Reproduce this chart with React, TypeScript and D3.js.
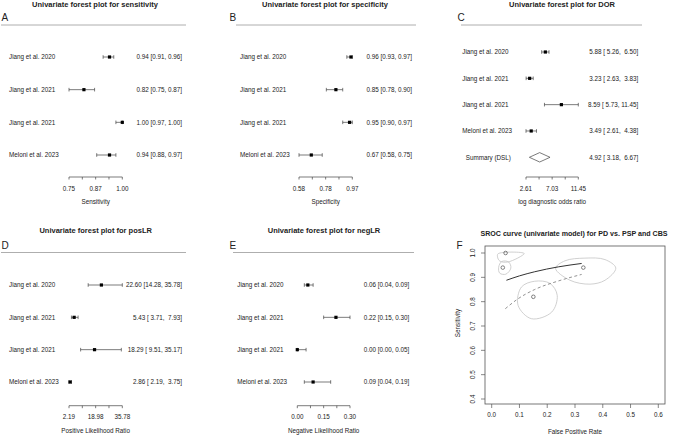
import React from "react";
import * as d3 from "d3";

const studies = ["Jiang et al. 2020", "Jiang et al. 2021", "Jiang et al. 2021", "Meloni et al. 2023"];

const sensEst = [0.94, 0.82, 1.0, 0.94];
const sensLo = [0.91, 0.75, 0.97, 0.88];
const sensHi = [0.96, 0.87, 1.0, 0.97];

const specEst = [0.96, 0.85, 0.95, 0.67];
const specLo = [0.93, 0.78, 0.9, 0.58];
const specHi = [0.97, 0.9, 0.97, 0.75];

const dorEst = [5.88, 3.23, 8.59, 3.49];
const dorLo = [5.26, 2.63, 5.73, 2.61];
const dorHi = [6.5, 3.83, 11.45, 4.38];
const dorSummary = { label: "Summary (DSL)", est: 4.92, lo: 3.18, hi: 6.67 };

const posEst = [22.6, 5.43, 18.29, 2.86];
const posLo = [14.28, 3.71, 9.51, 2.19];
const posHi = [35.78, 7.93, 35.17, 3.75];

const negEst = [0.06, 0.22, 0.0, 0.09];
const negLo = [0.04, 0.15, 0.0, 0.04];
const negHi = [0.09, 0.3, 0.05, 0.19];

const sensTicks = ["0.75", "0.87", "1.00"];
const specTicks = ["0.58", "0.78", "0.97"];
const dorTicks = ["2.61", "7.03", "11.45"];
const posTicks = ["2.19", "18.98", "35.78"];
const negTicks = ["0.00", "0.15", "0.30"];

// SROC panel
const contour1 = [[0.025, 0.941], [0.036, 0.965], [0.061, 0.963], [0.069, 0.938], [0.051, 0.913], [0.029, 0.917]];
const contour2 = [[0.155, 0.884], [0.21, 0.875], [0.236, 0.826], [0.216, 0.757], [0.143, 0.73], [0.095, 0.785], [0.107, 0.86]];
const contour3 = [[0.023, 0.997], [0.117, 0.998], [0.058, 0.963], [0.029, 0.967], [0.021, 0.984]];
const contour4 = [[0.23, 0.937], [0.264, 0.968], [0.336, 0.979], [0.408, 0.973], [0.447, 0.938], [0.408, 0.888], [0.354, 0.872], [0.282, 0.888]];
const srocFprSolid = [0.053, 0.1, 0.155, 0.24, 0.324];
const srocSensSolid = [0.888, 0.906, 0.923, 0.943, 0.957];
const srocFprDashed = [0.049, 0.095, 0.155, 0.24, 0.324];
const srocSensDashed = [0.771, 0.812, 0.85, 0.885, 0.912];
const rocXTicks = [0, 0.1, 0.2, 0.3, 0.4, 0.5, 0.6];
const rocYTicks = [0.4, 0.5, 0.6, 0.7, 0.8, 0.9, 1.0];

const FONT = "'Liberation Sans', Arial, Helvetica, sans-serif";
const TXT = "#222";

type ForestProps = {
  title: string; letter: string; titleX: number; titleY: number; letterX: number; letterY: number;
  lineX1: number; lineX2: number; lineY: number; labelX: number; valueRight: number;
  rowY0: number; rowY1: number; axisX0: number; axisX1: number; axisY: number;
  tickLabels: string[]; axisLabel: string; est: number[]; lo: number[]; hi: number[];
  pad?: boolean; summary?: { label: string; est: number; lo: number; hi: number }; summaryLabelX?: number;
};

function fmtValue(e: number, l: number, h: number, pad?: boolean) {
  const f = (v: number) => (pad ? v.toFixed(2).padStart(5, " ") : v.toFixed(2));
  return `${e.toFixed(2)} [${f(l)}, ${f(h)}]`;
}

function Forest(p: ForestProps) {
  const d0 = +p.tickLabels[0];
  const d1 = +p.tickLabels[p.tickLabels.length - 1];
  const x = d3.scaleLinear().domain([d0, d1]).range([p.axisX0, p.axisX1]);
  const nRows = p.est.length + (p.summary ? 1 : 0);
  const y = d3.scalePoint<number>().domain(d3.range(nRows)).range([p.rowY0, p.rowY1]);
  const ticks = d3.range(5).map((i) => d0 + (i * (d1 - d0)) / 4);
  const fs = 6.3;
  return (
    <g fontFamily={FONT}>
      <text x={p.titleX} y={p.titleY} textAnchor="middle" fontWeight="bold" fontSize={7.5} fill={TXT}>{p.title}</text>
      <text x={p.letterX} y={p.letterY} fontSize={10} fill={TXT}>{p.letter}</text>
      <line x1={p.lineX1} x2={p.lineX2} y1={p.lineY} y2={p.lineY} stroke="#999" strokeWidth={0.8} />
      {p.est.map((e, i) => {
        const yy = y(i)!;
        return (
          <g key={i}>
            <text x={p.labelX} y={yy + 2.2} fontSize={fs} fill={TXT}>{studies[i]}</text>
            <line x1={x(p.lo[i])} x2={x(p.hi[i])} y1={yy} y2={yy} stroke="#444" strokeWidth={0.7} />
            <line x1={x(p.lo[i])} x2={x(p.lo[i])} y1={yy - 1.8} y2={yy + 1.8} stroke="#444" strokeWidth={0.7} />
            <line x1={x(p.hi[i])} x2={x(p.hi[i])} y1={yy - 1.8} y2={yy + 1.8} stroke="#444" strokeWidth={0.7} />
            <rect x={x(e) - 1.6} y={yy - 1.6} width={3.2} height={3.2} fill="#000" />
            <text x={p.valueRight} y={yy + 2.2} fontSize={fs} fill={TXT} textAnchor="end" style={{ whiteSpace: "pre" }}>
              {fmtValue(e, p.lo[i], p.hi[i], p.pad)}
            </text>
          </g>
        );
      })}
      {p.summary && (() => {
        const yy = y(p.est.length)!;
        const s = p.summary;
        const pts = [[x(s.lo), yy], [x(s.est), yy - 4.7], [x(s.hi), yy], [x(s.est), yy + 4.7]];
        return (
          <g>
            <text x={p.summaryLabelX ?? p.labelX} y={yy + 2.2} fontSize={fs} fill={TXT}>{s.label}</text>
            <polygon points={pts.map((q) => q.join(",")).join(" ")} fill="#fff" stroke="#444" strokeWidth={0.7} />
            <text x={p.valueRight} y={yy + 2.2} fontSize={fs} fill={TXT} textAnchor="end" style={{ whiteSpace: "pre" }}>
              {fmtValue(s.est, s.lo, s.hi, p.pad)}
            </text>
          </g>
        );
      })()}
      <line x1={p.axisX0} x2={p.axisX1} y1={p.axisY} y2={p.axisY} stroke="#444" strokeWidth={0.7} />
      {ticks.map((t, i) => (
        <line key={i} x1={x(t)} x2={x(t)} y1={p.axisY} y2={p.axisY + 2.5} stroke="#444" strokeWidth={0.7} />
      ))}
      {p.tickLabels.map((t, i) => (
        <text key={i} x={x(ticks[i * 2])} y={p.axisY + 13.5} fontSize={fs} fill={TXT} textAnchor="middle">{t}</text>
      ))}
      <text x={(p.axisX0 + p.axisX1) / 2} y={p.axisY + 27} fontSize={fs} fill={TXT} textAnchor="middle">{p.axisLabel}</text>
    </g>
  );
}

function Sroc() {
  const x = d3.scaleLinear().domain([0, 0.6]).range([491.7, 658.3]);
  const y = d3.scaleLinear().domain([0.4, 1.0]).range([399, 253]);
  const closed = d3.line<number[]>().x((d) => x(d[0])).y((d) => y(d[1])).curve(d3.curveCatmullRomClosed.alpha(0.5));
  const open = d3.line<number>().x((d) => x(d)).curve(d3.curveMonotoneX);
  const solid = d3.line<number>().x((d) => x(d)).y((_, i) => y(srocSensSolid[i])).curve(d3.curveMonotoneX);
  const dashed = d3.line<number>().x((d) => x(d)).y((_, i) => y(srocSensDashed[i])).curve(d3.curveMonotoneX);
  void open;
  const box = { x0: 485, x1: 665, y0: 246, y1: 404 };
  return (
    <g fontFamily={FONT}>
      <text x={574} y={235.5} textAnchor="middle" fontWeight="bold" fontSize={7.1} fill={TXT}>
        SROC curve (univariate model) for PD vs. PSP and CBS
      </text>
      <text x={456.5} y={248.8} fontSize={10} fill={TXT}>F</text>
      <rect x={box.x0} y={box.y0} width={box.x1 - box.x0} height={box.y1 - box.y0} fill="none" stroke="#555" strokeWidth={0.8} />
      {[contour1, contour2, contour3, contour4].map((c, i) => (
        <path key={i} d={closed(c) || ""} fill="none" stroke="#c4c4c4" strokeWidth={0.8} />
      ))}
      <path d={solid(srocFprSolid) || ""} fill="none" stroke="#333" strokeWidth={1} />
      <path d={dashed(srocFprDashed) || ""} fill="none" stroke="#777" strokeWidth={0.8} strokeDasharray="3,2.5" />
      {specEst.map((s, i) => (
        <circle key={i} cx={x(1 - s)} cy={y(sensEst[i])} r={1.8} fill="none" stroke="#333" strokeWidth={0.6} />
      ))}
      {rocXTicks.map((t) => (
        <g key={t}>
          <line x1={x(t)} x2={x(t)} y1={box.y1} y2={box.y1 + 4} stroke="#555" strokeWidth={0.7} />
          <text x={x(t)} y={417.2} fontSize={6.3} fill={TXT} textAnchor="middle">{t.toFixed(1)}</text>
        </g>
      ))}
      {rocYTicks.map((t) => (
        <g key={t}>
          <line x1={box.x0} x2={box.x0 - 4} y1={y(t)} y2={y(t)} stroke="#555" strokeWidth={0.7} />
          <text transform={`translate(475.3,${y(t)}) rotate(-90)`} fontSize={6.3} fill={TXT} textAnchor="middle">{t.toFixed(1)}</text>
        </g>
      ))}
      <text x={575} y={433.8} fontSize={6.3} fill={TXT} textAnchor="middle">False Positive Rate</text>
      <text transform={`translate(460.3,${323}) rotate(-90)`} fontSize={6.3} fill={TXT} textAnchor="middle">Sensitivity</text>
    </g>
  );
}

export default function App() {
  return (
    <svg width={676} height={436} style={{ position: "absolute", left: 0, top: 0, background: "#fff" }}>
      <rect width={676} height={436} fill="#fff" />
      <Forest title="Univariate forest plot for sensitivity" letter="A" titleX={95} titleY={7.4} letterX={1.5} letterY={21}
        lineX1={1} lineX2={186} lineY={25} labelX={9} valueRight={182} rowY0={57} rowY1={155}
        axisX0={69} axisX1={122.3} axisY={177} tickLabels={sensTicks} axisLabel="Sensitivity"
        est={sensEst} lo={sensLo} hi={sensHi} />
      <Forest title="Univariate forest plot for specificity" letter="B" titleX={325} titleY={7.4} letterX={229.5} letterY={21}
        lineX1={236} lineX2={416} lineY={25} labelX={240} valueRight={412} rowY0={57} rowY1={155}
        axisX0={299} axisX1={352.3} axisY={177} tickLabels={specTicks} axisLabel="Specificity"
        est={specEst} lo={specLo} hi={specHi} />
      <Forest title="Univariate forest plot for DOR" letter="C" titleX={562} titleY={7.4} letterX={457.5} letterY={21}
        lineX1={461} lineX2={642} lineY={25} labelX={462.3} valueRight={638.3} rowY0={52} rowY1={157.3}
        axisX0={526} axisX1={578.3} axisY={177} tickLabels={dorTicks} axisLabel="log diagnostic odds ratio"
        est={dorEst} lo={dorLo} hi={dorHi} pad summary={dorSummary} summaryLabelX={465.7} />
      <Forest title="Univariate forest plot for posLR" letter="D" titleX={95.7} titleY={233.4} letterX={1.5} letterY={249.3}
        lineX1={1} lineX2={186} lineY={252.5} labelX={9} valueRight={182} rowY0={285} rowY1={382}
        axisX0={69} axisX1={122.3} axisY={405.7} tickLabels={posTicks} axisLabel="Positive Likelihood Ratio"
        est={posEst} lo={posLo} hi={posHi} pad />
      <Forest title="Univariate forest plot for negLR" letter="E" titleX={324} titleY={233.4} letterX={229.5} letterY={249.3}
        lineX1={233} lineX2={414} lineY={252.5} labelX={237.3} valueRight={409.3} rowY0={285} rowY1={382}
        axisX0={297.3} axisX1={350} axisY={405.7} tickLabels={negTicks} axisLabel="Negative Likelihood Ratio"
        est={negEst} lo={negLo} hi={negHi} />
      <Sroc />
    </svg>
  );
}
